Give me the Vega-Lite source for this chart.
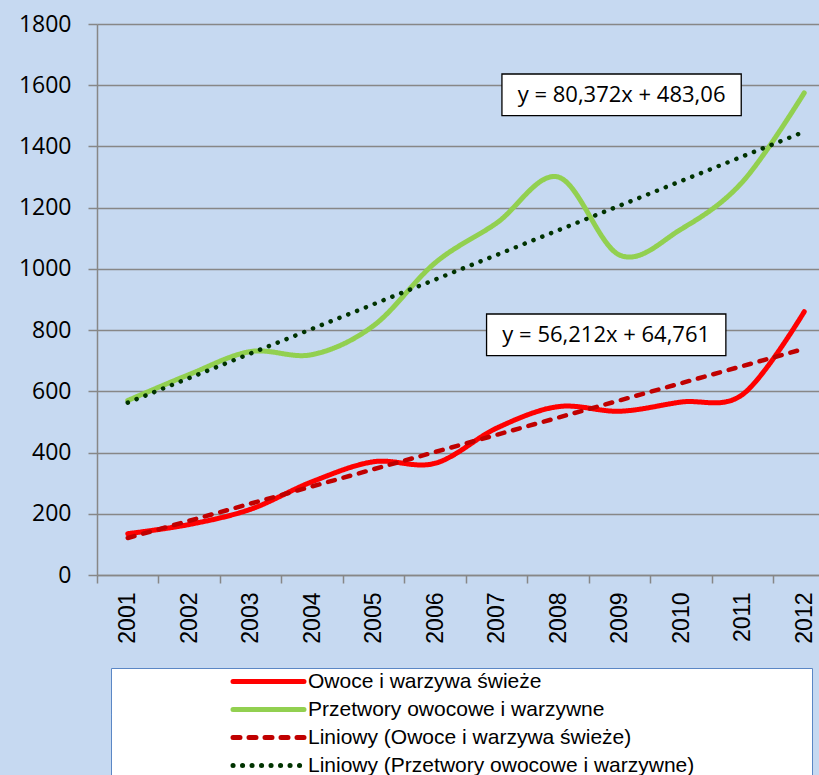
{
  "$schema": "https://vega.github.io/schema/vega-lite/v6.json",
  "width": 722,
  "height": 551,
  "autosize": {"type": "none"},
  "padding": {"left": 97, "top": 24, "right": 0, "bottom": 200},
  "background": "#C6D9F1",
  "config": {
    "view": {"stroke": null},
    "font": "Open Sans",
    "legend": {
      "orient": "none",
      "legendX": 14,
      "legendY": 644,
      "fillColor": "white",
      "strokeColor": "#5B87C5",
      "padding": 1,
      "titleOrient": "left",
      "titleColor": "white",
      "titleFont": "Liberation Sans",
      "titleFontSize": 21,
      "titleFontWeight": "normal",
      "titlePadding": 2,
      "labelFont": "Liberation Sans",
      "labelFontSize": 21,
      "labelColor": "black",
      "labelLimit": 1000,
      "labelOffset": 27,
      "symbolType": "M-3.55,0H3.55",
      "symbolSize": 400,
      "symbolStrokeWidth": 5,
      "symbolOffset": 23,
      "rowPadding": 5
    }
  },
  "datasets": {
    "series": [
      {"year": 2001, "series": "Owoce i warzywa świeże", "value": 135},
      {"year": 2002, "series": "Owoce i warzywa świeże", "value": 165},
      {"year": 2003, "series": "Owoce i warzywa świeże", "value": 215},
      {"year": 2004, "series": "Owoce i warzywa świeże", "value": 305},
      {"year": 2005, "series": "Owoce i warzywa świeże", "value": 370},
      {"year": 2006, "series": "Owoce i warzywa świeże", "value": 365},
      {"year": 2007, "series": "Owoce i warzywa świeże", "value": 480},
      {"year": 2008, "series": "Owoce i warzywa świeże", "value": 550},
      {"year": 2009, "series": "Owoce i warzywa świeże", "value": 535},
      {"year": 2010, "series": "Owoce i warzywa świeże", "value": 565},
      {"year": 2011, "series": "Owoce i warzywa świeże", "value": 590},
      {"year": 2012, "series": "Owoce i warzywa świeże", "value": 860},
      {"year": 2001, "series": "Przetwory owocowe i warzywne", "value": 570},
      {"year": 2002, "series": "Przetwory owocowe i warzywne", "value": 655},
      {"year": 2003, "series": "Przetwory owocowe i warzywne", "value": 730},
      {"year": 2004, "series": "Przetwory owocowe i warzywne", "value": 720},
      {"year": 2005, "series": "Przetwory owocowe i warzywne", "value": 815},
      {"year": 2006, "series": "Przetwory owocowe i warzywne", "value": 1020},
      {"year": 2007, "series": "Przetwory owocowe i warzywne", "value": 1150},
      {"year": 2008, "series": "Przetwory owocowe i warzywne", "value": 1300},
      {"year": 2009, "series": "Przetwory owocowe i warzywne", "value": 1045},
      {"year": 2010, "series": "Przetwory owocowe i warzywne", "value": 1130},
      {"year": 2011, "series": "Przetwory owocowe i warzywne", "value": 1285},
      {"year": 2012, "series": "Przetwory owocowe i warzywne", "value": 1575}
    ],
    "trend": [
      {"year": 2001, "series": "Liniowy (Owoce i warzywa świeże)", "value": 121},
      {"year": 2012, "series": "Liniowy (Owoce i warzywa świeże)", "value": 739},
      {"year": 2001, "series": "Liniowy (Przetwory owocowe i warzywne)", "value": 563},
      {"year": 2012, "series": "Liniowy (Przetwory owocowe i warzywne)", "value": 1448}
    ],
    "labels": [
      {"year": 2009.03, "value": 1568.5, "label": "y = 80,372x + 483,06"},
      {"year": 2008.78, "value": 784.5, "label": "y = 56,212x + 64,761"}
    ]
  },
  "layer": [
    {
      "data": {"name": "series"},
      "mark": {"type": "line", "interpolate": "cardinal", "strokeWidth": 5, "strokeCap": "round"},
      "encoding": {
        "x": {
          "field": "year", "type": "quantitative",
          "scale": {"domain": [2000.5, 2012.24], "nice": false, "zero": false},
          "axis": {
            "title": null,
            "values": [2000.5, 2001.5, 2002.5, 2003.5, 2004.5, 2005.5, 2006.5, 2007.5, 2008.5, 2009.5, 2010.5, 2011.5],
            "labelExpr": "'' + (datum.value + 0.5)",
            "labelAngle": 270,
            "labelOffset": 30.75,
            "labelFlush": false,
            "labelOverlap": false,
            "labelBound": false,
            "grid": false,
            "tickSize": 8,
            "tickWidth": 1.5,
            "tickColor": "#878787",
            "domainColor": "#878787",
            "domainWidth": 1.5,
            "labelPadding": 9,
            "labelFont": "Liberation Sans",
            "labelFontSize": 23,
            "labelColor": "black"
          }
        },
        "y": {
          "field": "value", "type": "quantitative",
          "scale": {"domain": [0, 1800], "nice": false},
          "axis": {
            "title": null,
            "format": "d",
            "values": [0, 200, 400, 600, 800, 1000, 1200, 1400, 1600, 1800],
            "grid": true,
            "gridColor": "#878787",
            "gridWidth": 1.5,
            "tickSize": 9,
            "tickWidth": 1.5,
            "tickColor": "#878787",
            "domainColor": "#878787",
            "domainWidth": 1.5,
            "labelPadding": 17,
            "labelFont": "Open Sans",
            "labelFontSize": 23,
            "labelColor": "black"
          }
        },
        "color": {
          "field": "series", "type": "nominal",
          "title": "WWWWWW",
          "scale": {
            "domain": ["Owoce i warzywa świeże", "Przetwory owocowe i warzywne", "Liniowy (Owoce i warzywa świeże)", "Liniowy (Przetwory owocowe i warzywne)"],
            "range": ["#FF0000", "#92D050", "#C00000", "#003300"]
          },
          "legend": {
            "labelExpr": "datum.label + '\u00a0\u00a0\u00a0\u00a0\u00a0\u00a0\u00a0\u00a0\u00a0\u00a0\u00a0\u00a0\u00a0\u00a0\u00a0\u00a0\u00a0\u00a0\u00a0\u00a0\u200b'",
            "encode": {"symbols": {"update": {"strokeCap": {"value": "round"}}}}
          }
        },
        "strokeDash": {
          "field": "series", "type": "nominal",
          "title": "WWWWWW",
          "scale": {
            "domain": ["Owoce i warzywa świeże", "Przetwory owocowe i warzywne", "Liniowy (Owoce i warzywa świeże)", "Liniowy (Przetwory owocowe i warzywne)"],
            "range": [[1, 0], [1, 0], [7, 9], [0.1, 9.4]]
          },
          "legend": {
            "labelExpr": "datum.label + '\u00a0\u00a0\u00a0\u00a0\u00a0\u00a0\u00a0\u00a0\u00a0\u00a0\u00a0\u00a0\u00a0\u00a0\u00a0\u00a0\u00a0\u00a0\u00a0\u00a0\u200b'",
            "encode": {"symbols": {"update": {"strokeCap": {"value": "round"}}}}
          }
        }
      }
    },
    {
      "data": {"name": "trend"},
      "mark": {"type": "line", "strokeWidth": 4.5, "strokeCap": "round"},
      "encoding": {
        "x": {"field": "year", "type": "quantitative"},
        "y": {"field": "value", "type": "quantitative"},
        "color": {"field": "series", "type": "nominal", "title": "WWWWWW"},
        "strokeDash": {"field": "series", "type": "nominal", "title": "WWWWWW"}
      }
    },
    {
      "data": {"name": "labels"},
      "mark": {"type": "point", "shape": "M-1,-0.1743H1V0.1743H-1Z", "size": 57264, "filled": true, "fill": "white", "stroke": "black", "strokeWidth": 1.3, "opacity": 1},
      "encoding": {
        "x": {"field": "year", "type": "quantitative"},
        "y": {"field": "value", "type": "quantitative"}
      }
    },
    {
      "data": {"name": "labels"},
      "mark": {"type": "text", "font": "Open Sans", "fontSize": 22, "color": "black", "align": "center", "baseline": "middle"},
      "encoding": {
        "x": {"field": "year", "type": "quantitative"},
        "y": {"field": "value", "type": "quantitative"},
        "text": {"field": "label"}
      }
    }
  ]
}
